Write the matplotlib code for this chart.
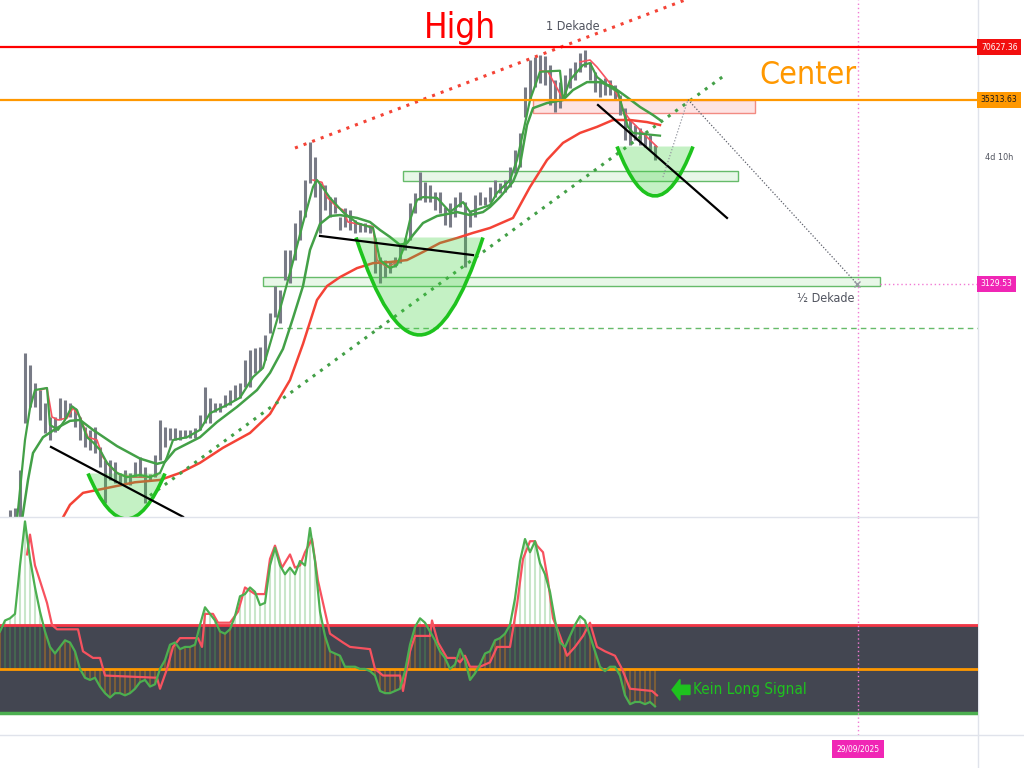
import numpy as np
import matplotlib
matplotlib.use("Agg")
from matplotlib import pyplot as plt
from matplotlib import transforms
from matplotlib.path import Path
from matplotlib.patches import PathPatch, Rectangle, FancyArrow
from matplotlib.lines import Line2D

NARROW = ["Liberation Sans Narrow", "DejaVu Sans"]
COND = "condensed"

# key price levels (log chart)
high_level = 70627.36
center_level = 35313.63
half_level = 3129.53
dashed_level = 1750
price_lim = (145.6, 131100)

# price bars (high / low per bar)
bar_t = np.arange(10, 660, 5)
bar_hi = [160, 164, 270, 1260, 1076, 850, 774, 652, 543, 543,
          697, 679, 652, 610, 543, 476, 458, 476, 366, 308,
          308, 300, 260, 270, 260, 300, 320, 282, 256, 329,
          522, 476, 470, 470, 458, 458, 458, 470, 557, 805,
          700, 652, 652, 725, 774, 827, 850, 1149, 1311, 1345,
          1363, 1597, 2135, 3040, 2890, 4890, 4890, 6970, 8270, 12270,
          20200, 16600, 11800, 11490, 9800, 9800, 7540, 8500, 8270, 7250,
          6970, 6970, 6790, 5720, 4450, 4280, 4170, 4450, 5360, 5720,
          9060, 10350, 13640, 11950, 11490, 10480, 10480, 8600, 9060, 9800,
          10480, 9180, 8270, 10080, 10480, 9800, 11200, 12270, 11800, 12270,
          14560, 18210, 22800, 41700, 59520, 61900, 63570, 62700, 55730, 45750,
          44600, 48860, 53500, 58000, 65200, 67890, 58000, 50800, 45750, 47000,
          45750, 42830, 37550, 31600, 27030, 25310, 24300, 23100, 22190, 19450]
bar_lo = [146, 146, 146, 502, 620, 620, 522, 440, 401, 446,
          522, 535, 543, 476, 401, 366, 352, 338, 282, 175,
          237, 228, 228, 228, 222, 246, 246, 175, 237, 246,
          308, 366, 401, 401, 401, 412, 412, 412, 458, 502,
          502, 580, 580, 620, 636, 679, 700, 805, 805, 970,
          1008, 1149, 1640, 2030, 1870, 3290, 3160, 4280, 5570, 7540,
          11800, 9800, 6110, 8270, 7540, 7950, 6360, 6620, 6360, 6110,
          6200, 6200, 6110, 3600, 3160, 3420, 3600, 3900, 4120, 4890,
          5570, 7950, 9430, 9180, 9180, 8270, 7950, 6790, 6620, 7540,
          8600, 3900, 6620, 7540, 8830, 8830, 9180, 9800, 10350, 10480,
          11200, 13460, 14560, 28100, 35160, 41700, 44000, 42830, 32920, 30000,
          31600, 37550, 41200, 45750, 50800, 54300, 45750, 39000, 36500, 37550,
          37550, 35160, 28860, 20770, 19450, 20770, 19450, 19000, 18210, 15970]

# moving averages
fast_green_t = [17, 22, 25, 30, 35, 47, 50, 58, 65, 72, 77, 87, 93, 100, 107,
                117, 127, 140, 150, 160, 167, 173, 187, 200, 210, 227, 240, 253,
                263, 277, 290, 303, 313, 317, 323, 330, 343, 357, 373, 380, 390,
                397, 403, 410, 417, 423, 437, 450, 463, 470, 490, 497, 510, 517,
                523, 530, 540, 560, 563, 570, 583, 590, 597, 607, 618, 623, 628,
                633, 660]
fast_green = [140, 270, 401, 610, 774, 795, 489, 458, 522, 625, 595, 416, 389,
              352, 297, 260, 246, 253, 246, 260, 320, 401, 416, 458, 570, 636,
              700, 918, 1035, 1945, 3610, 6970, 11200, 12270, 11050, 9700, 8050,
              6970, 6530, 4280, 3850, 4010, 4890, 7250, 9430, 9800, 9700, 8050,
              9180, 8050, 8830, 10350, 12270, 15970, 22800, 35160, 51000, 51700,
              35160, 45750, 55730, 57200, 47600, 42830, 39000, 30830, 24700,
              22800, 22000]

slow_green_t = [22, 28, 33, 43, 57, 70, 80, 93, 117, 140, 157, 165, 175, 200,
                217, 237, 257, 270, 283, 293, 303, 310, 320, 330, 340, 357, 370,
                380, 390, 400, 407, 413, 423, 437, 457, 470, 483, 490, 500, 513,
                520, 527, 533, 547, 563, 573, 587, 600, 613, 627, 640, 653, 660]
slow_green = [140, 237, 338, 416, 470, 516, 522, 458, 370, 314, 293, 301, 352,
              416, 508, 620, 774, 970, 1330, 1995, 3040, 4890, 6880, 7640, 7740,
              7450, 7060, 6360, 5800, 5220, 5360, 5950, 6970, 7640, 8050, 7740,
              8050, 8600, 9800, 12000, 15000, 25310, 31600, 33800, 35160, 40110,
              44500, 44500, 41700, 36500, 32100, 28860, 27030]

nan = np.nan
fast_red_t = [40, 47, 52, 58, 67, 73, 80, 88, 97, 103, 110, 120, 133, 147, 157, nan,
              313, 322, 327, 337, 343, 348, 363, 373, 377, 387, 397, nan,
              540, 548, 562, nan,
              580, 590, 597, 613, 620, 623, 630, 637, 647, 657]
fast_red = [774, 795, 543, 522, 535, 610, 543, 416, 401, 320, 282, 253, 246, 246, 253, nan,
            12270, 11900, 9800, 8600, 8270, 7060, 6790, 6620, 4280, 3900, 4170, nan,
            51700, 51000, 36500, nan,
            58000, 59520, 54250, 41700, 35160, 30830, 27030, 24700, 21600, 19000]

slow_red_t = [60, 70, 83, 110, 135, 160, 180, 200, 223, 250, 270, 290, 303, 317,
              327, 340, 357, 373, 390, 407, 423, 440, 457, 473, 490, 513, 530,
              547, 563, 580, 597, 613, 630, 647, 660]
slow_red = [135, 171, 200, 215, 230, 237, 260, 297, 362, 440, 565, 883, 1420,
            2531, 3040, 3420, 3850, 4110, 4170, 4280, 4760, 5360, 5720, 6120,
            6530, 7450, 11200, 15970, 20000, 22800, 24700, 27030, 27030, 26300,
            25310]

# oscillator
osc_t = np.arange(0, 656, 5)
osc_fast = [37, 42, 43, 45, 67, 87, 70, 57, 46, 37,
            30, 27, 30, 33, 32, 28, 20, 16, 15, 16,
            12, 9, 7, 9, 9, 8, 9, 11, 14, 15,
            12, 13, 20, 24, 31, 32, 29, 30, 30, 31,
            40, 48, 45, 42, 37, 36, 38, 44, 53, 54,
            57, 55, 49, 50, 67, 75, 67, 63, 66, 63,
            69, 67, 84, 69, 46, 35, 28, 27, 26, 21,
            21, 21, 20, 20, 19, 17, 10, 9, 9, 10,
            11, 19, 31, 39, 43, 41, 37, 33, 28, 25,
            20, 22, 29, 24, 15, 18, 22, 27, 28, 33,
            34, 36, 40, 52, 69, 79, 73, 78, 68, 63,
            55, 42, 32, 30, 35, 40, 44, 42, 35, 28,
            21, 19, 21, 21, 17, 8, 4, 5, 5, 4,
            5, 3]
osc_slow_t = [27, 30, 35, 40, 47, 52, 57, 78, 83, 93, 100, 105, 157, 160, 167,
              173, 180, 198, 202, 205, 213, 218, 230, 238, 245, 255, 265, 270,
              275, 282, 290, 295, 300, 305, 312, 318, 325, 330, 343, 350, 370,
              375, 383, 400, 403, 410, 415, 430, 432, 438, 447, 455, 460, 465,
              470, 480, 490, 497, 510, 517, 523, 530, 535, 537, 543, 548, 553,
              560, 567, 575, 583, 590, 597, 605, 615, 622, 630, 652, 657]
osc_slow = [72, 81, 67, 60, 50, 40, 38, 38, 28, 25, 25, 17, 16, 11, 20, 30, 34,
            34, 30, 45, 45, 41, 41, 46, 57, 54, 54, 70, 76, 66, 72, 66, 67, 73,
            79, 60, 46, 36, 32, 30, 29, 20, 17, 17, 10, 28, 35, 35, 42, 32, 25,
            25, 23, 26, 21, 21, 23, 30, 30, 49, 70, 78, 78, 76, 73, 60, 43, 35,
            26, 30, 35, 41, 30, 28, 26, 20, 11, 10, 8]
osc_top, osc_mid, osc_low = 40, 20, 0

# drawings
zones = [(533, 755, 29650, center_level, "#fde3e3", "#f28b82"),
         (403, 738, 12115, 13810, "#e8f7e8", "#66bb6a"),
         (263, 880, 3043, 3425, "#e8f7e8", "#66bb6a")]
cups = [((88, 258), (126.5, 78), (165, 258)),
        ((356, 5760), (419.5, 443), (483, 5760)),
        ((617, 19070), (655, 5186), (693, 19070))]
trend_lines = [((51, 366), (183, 146)),
               ((320, 5880), (473, 4570)),
               ((598, 32920), (727, 7450))]
target_date = 858

fig = plt.figure(figsize=(10.24, 7.68), dpi=100)
ax = fig.add_axes([0, 1 - 517 / 768, 978 / 1024, 517 / 768])
osc = fig.add_axes([0, 33 / 768, 978 / 1024, 218 / 768])

ax.set_yscale("log")
ax.set_xlim(0, 978)
ax.set_ylim(*price_lim)
osc.set_xlim(0, 978)
osc.set_ylim(-10, 89)
ax.axis("off")
osc.axis("off")

for x0, x1, lo, hi, fc, ec in zones:
    ax.add_patch(Rectangle((x0, lo), x1 - x0, hi - lo, fc=fc, ec=ec, lw=1, zorder=1))

ax.vlines(bar_t, bar_lo, bar_hi, color="#787b86", lw=2.2, zorder=2)
ax.plot(fast_red_t, fast_red, color="#f7525f", lw=1.2, zorder=2.5)
ax.plot(slow_red_t, slow_red, color="#f44336", lw=1.8, zorder=3)
ax.plot(slow_green_t, slow_green, color="#43a047", lw=1.8, zorder=3)
ax.plot(fast_green_t, fast_green, color="#43a047", lw=1.6, zorder=3)

for p0, p1, p2 in cups:
    body = Path([p0, p1, p2, p0], [Path.MOVETO, Path.CURVE3, Path.CURVE3, Path.CLOSEPOLY])
    ax.add_patch(PathPatch(body, fc="#3dd13d", ec="none", alpha=0.3, zorder=4))
    rim = Path([p0, p1, p2], [Path.MOVETO, Path.CURVE3, Path.CURVE3])
    ax.add_patch(PathPatch(rim, fc="none", ec="#1ec31e", lw=2.6, zorder=4.5))

for (xa, pa), (xb, pb) in trend_lines:
    ax.plot([xa, xb], [pa, pb], color="black", lw=1.6, zorder=5)

ax.plot([295, 685], [18700, 131100], color="#f44336", lw=2.2, ls=(0, (1, 2)), zorder=3)
ax.plot([150, 725], [193, 48860], color="#43a047", lw=2.2, ls=(0, (1, 2)), zorder=3)
ax.plot([277, 978], [dashed_level, dashed_level], color="#66bb6a", lw=1, ls=(0, (4, 3)), zorder=1)
ax.axhline(high_level, color="#ff0000", lw=1.6, zorder=6)
ax.axhline(center_level, color="#ff9800", lw=1.6, zorder=6)
ax.plot([880, 978], [half_level, half_level], color="#f27ad4", lw=1, ls=(0, (1, 2)), zorder=1)
ax.plot([663, 688], [12760, center_level], color="#9598a1", lw=0.9, ls=(0, (1, 1.5)), zorder=6)
ax.plot([688, 857], [center_level, half_level], color="#5d606b", lw=0.9, ls=(0, (1, 1.5)), zorder=6)
ax.plot([857], [half_level], marker="x", ms=4, color="#9598a1", zorder=6)
ax.axvline(target_date, color="#f27ad4", lw=1, ls=(0, (1, 2)), zorder=1)
osc.axvline(target_date, color="#f27ad4", lw=1, ls=(0, (1, 2)), zorder=5)

ax.text(460, 79500, "High", color="#ff0000", fontsize=25, family=NARROW,
        stretch=COND, ha="center", va="baseline", zorder=7)
ax.text(808, 43500, "Center", color="#ff9800", fontsize=23, family=NARROW,
        stretch=COND, ha="center", va="baseline", zorder=7)
ax.text(573, 88330, "1 Dekade", color="#50535e", fontsize=9, family=NARROW,
        stretch=COND, ha="center", va="baseline", zorder=7)
ax.text(826, 2460, "½ Dekade", color="#50535e", fontsize=9, family=NARROW,
        stretch=COND, ha="center", va="baseline", zorder=7)

right = transforms.blended_transform_factory(ax.transAxes, ax.transData)
price_tags = [(high_level, "70627.36", "#f20f0f", "white"),
              (center_level, "35313.63", "#ff9800", "#131722"),
              (half_level, "3129.53", "#f026b5", "white")]
for level, label, fc, tc in price_tags:
    ax.text(1.003, level, label, transform=right, ha="left", va="center",
            fontsize=6.2, family=NARROW, stretch=COND, color=tc, clip_on=False,
            zorder=10, bbox=dict(boxstyle="square,pad=0.4", fc=fc, ec="none"))
ax.text(1.007, 16610, "4d 10h", transform=right, ha="left", va="center",
        fontsize=6.5, family=NARROW, stretch=COND, color="#50535e", clip_on=False,
        zorder=10, bbox=dict(boxstyle="square,pad=0.3", fc="white", ec="none"))

# oscillator panel
osc.axhspan(osc_low, osc_top, color="#434651", zorder=0)
bar_cols = ["#4caf50" if v >= osc_top else "#ff9800" for v in osc_fast]
osc.vlines(osc_t, osc_mid, osc_fast, colors=bar_cols, lw=1.5, alpha=0.3, zorder=1)
osc.axhline(osc_top, color="#f23645", lw=2, zorder=2)
osc.axhline(osc_mid, color="#ff9800", lw=2, zorder=2)
osc.axhline(osc_low, color="#4caf50", lw=2.5, zorder=2)
osc.plot(osc_slow_t, osc_slow, color="#f7525f", lw=1.6, zorder=3)
osc.plot(osc_t, osc_fast, color="#4caf50", lw=1.6, zorder=4)

osc.add_patch(FancyArrow(690, 10.5, -18, 0, width=4.2, head_width=9.5, head_length=8,
                         length_includes_head=True, color="#1ec31e", zorder=6))
osc.text(693, 10.5, "Kein Long Signal", color="#1ec31e", fontsize=11,
         family=NARROW, stretch=COND, ha="left", va="center", zorder=6)

bottom = transforms.blended_transform_factory(osc.transData, osc.transAxes)
osc.text(target_date, -0.064, "29/09/2025", transform=bottom, ha="center", va="center",
         fontsize=6, family=NARROW, stretch=COND, color="white", clip_on=False,
         zorder=10, bbox=dict(boxstyle="square,pad=0.55", fc="#f026b5", ec="none"))

sep = "#e0e3eb"
fig.add_artist(Line2D([0, 978 / 1024], [1 - 517 / 768] * 2, color=sep, lw=1))
fig.add_artist(Line2D([0, 1], [33 / 768] * 2, color=sep, lw=1))
fig.add_artist(Line2D([978 / 1024] * 2, [0, 1], color=sep, lw=1, zorder=0))

fig.savefig("out.png", dpi=100)
